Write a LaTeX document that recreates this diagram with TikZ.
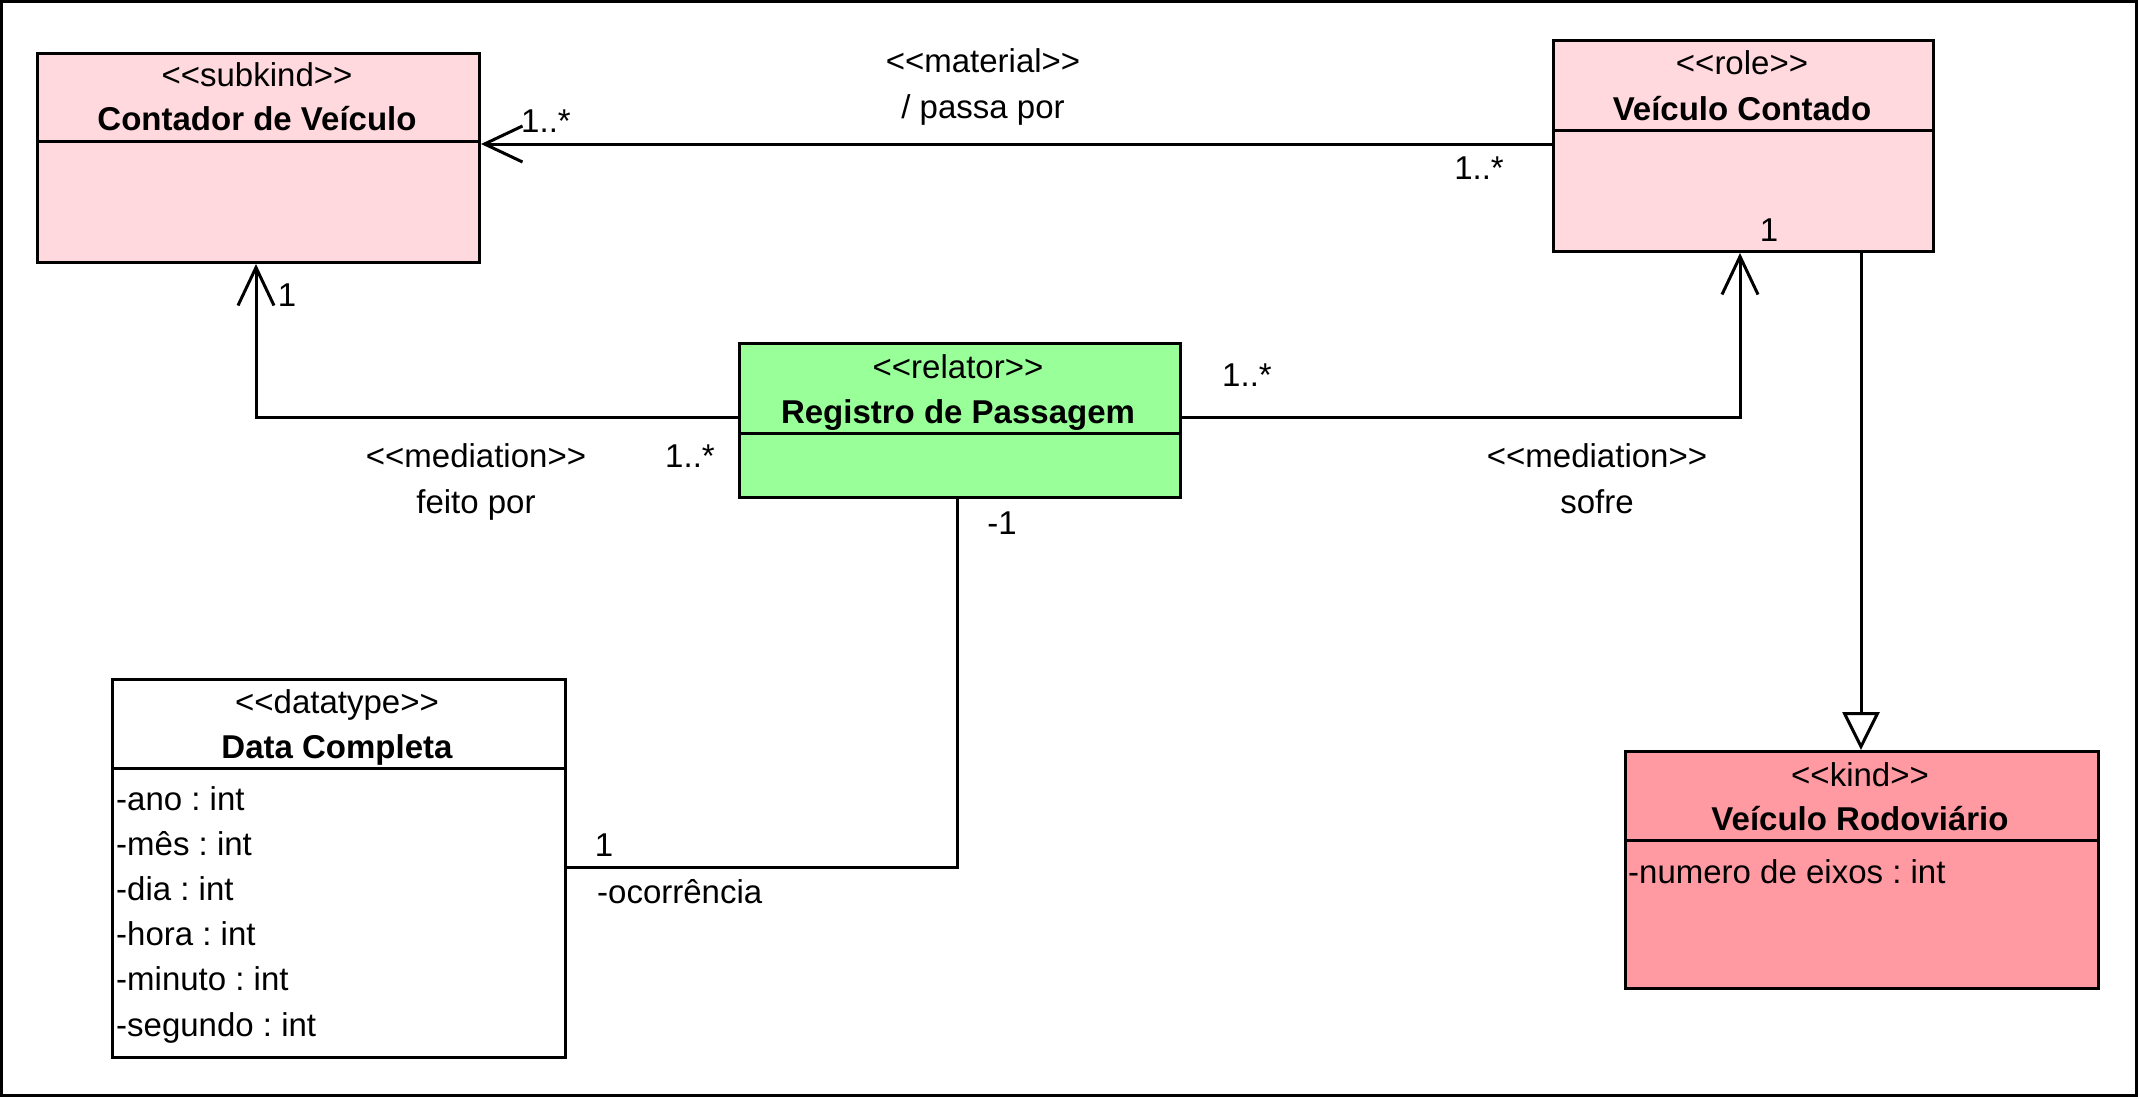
\documentclass[tikz,border=0pt]{standalone}
\usepackage{fontspec}
\setmainfont{Liberation Sans}
\usetikzlibrary{arrows.meta}
\definecolor{pinkA}{HTML}{FFD9DD}
\definecolor{pinkB}{HTML}{FF99A2}
\definecolor{greenA}{HTML}{99FF99}
\newcommand{\stl}{<\kern0pt<}
\newcommand{\stg}{>\kern0pt>}
\frenchspacing
\begin{document}
\begin{tikzpicture}[x=1pt,y=-1pt,
  font=\fontsize{33}{39}\selectfont,
  classbox/.style={draw=black, line width=3pt, anchor=north west, inner sep=0pt},
  divline/.style={draw=black, line width=3pt},
  assoc/.style={draw=black, line width=3pt},
  openarrow/.style={-{Straight Barb[length=38pt,width=36pt,line width=3pt]}},
  genarrow/.style={-{Triangle[length=38pt,width=37pt,fill=white,line width=3pt]}},
  lbl/.style={inner sep=0pt, text height=23pt, text depth=0pt},
  nm/.style={lbl, font=\fontsize{33}{39}\selectfont\bfseries}]
\useasboundingbox (0,0) rectangle (2139,1098);
\draw[line width=3pt] (1.5,1.5) rectangle (2136.5,1095.5);

% classes
\node[classbox, fill=pinkA, minimum width=442pt, minimum height=209pt] (cont) at (36,52) {};
\draw[divline] (cont.west |- 0,141) -- (cont.east |- 0,141);
\node[lbl] (contS) at (257,75) {\stl subkind\stg};
\node[nm] (contN) at (257,119) {Contador de Veículo};

\node[classbox, fill=pinkA, minimum width=380pt, minimum height=211pt] (vc) at (1552,39) {};
\draw[divline] (vc.west |- 0,130) -- (vc.east |- 0,130);
\node[lbl] (vcS) at (1742,63) {\stl role\stg};
\node[nm] (vcN) at (1742,109) {Veículo Contado};

\node[classbox, fill=greenA, minimum width=441pt, minimum height=154pt] (reg) at (738,342) {};
\draw[divline] (reg.west |- 0,433) -- (reg.east |- 0,433);
\node[lbl] (regS) at (958,367) {\stl relator\stg};
\node[nm] (regN) at (958,412) {Registro de Passagem};

\node[classbox, fill=white, minimum width=453pt, minimum height=378pt] (dc) at (111,678) {};
\draw[divline] (dc.west |- 0,768) -- (dc.east |- 0,768);
\node[lbl] (dcS) at (337,702) {\stl datatype\stg};
\node[nm] (dcN) at (337,747) {Data Completa};
\node[lbl, anchor=west] (dc1) at (116,799) {-ano : int};
\node[lbl, anchor=west] (dc2) at (116,844) {-mês : int};
\node[lbl, anchor=west] (dc3) at (116,889) {-dia : int};
\node[lbl, anchor=west] (dc4) at (116,934) {-hora : int};
\node[lbl, anchor=west] (dc5) at (116,979) {-minuto : int};
\node[lbl, anchor=west] (dc6) at (116,1025) {-segundo : int};

\node[classbox, fill=pinkB, minimum width=473pt, minimum height=237pt] (vr) at (1624,750) {};
\draw[divline] (vr.west |- 0,840) -- (vr.east |- 0,840);
\node[lbl] (vrS) at (1860,775) {\stl kind\stg};
\node[nm] (vrN) at (1860,819) {Veículo Rodoviário};
\node[lbl, anchor=west] (vr1) at (1628,872) {-numero de eixos : int};

% material association
\draw[assoc, openarrow] (vc.west |- 0,144) -- (cont.east |- 0,144);
\node[lbl] (matS) at (983,61) {\stl material\stg};
\node[lbl] (matN) at (983,107) {/ passa por};
\node[lbl] (matM1) at (546,121) {1..*};
\node[lbl] (matM2) at (1479,168) {1..*};

% mediation feito por
\draw[assoc, openarrow] (reg.west |- 0,417) -| (cont.south -| 256,0);
\node[lbl] (fpS) at (476,456) {\stl mediation\stg};
\node[lbl] (fpN) at (476,502) {feito por};
\node[lbl] (fpM1) at (287,295) {1};
\node[lbl] (fpM2) at (690,456) {1..*};

% mediation sofre
\draw[assoc, openarrow] (reg.east |- 0,417) -| (vc.south -| 1740,0);
\node[lbl] (soS) at (1597,456) {\stl mediation\stg};
\node[lbl] (soN) at (1597,502) {sofre};
\node[lbl] (soM1) at (1247,375) {1..*};
\node[lbl] (soM2) at (1769,230) {1};

% ocorrencia
\draw[assoc] (reg.south -| 957,0) |- (dc.east |- 0,867);
\node[lbl] (ocM1) at (1002,523) {-1};
\node[lbl] (ocM2) at (604,845) {1};
\node[lbl, anchor=west] (ocN) at (597,892) {-ocorrência};

% generalization
\draw[assoc, genarrow] (vc.south -| 1861,0) -- (vr.north -| 1861,0);
\end{tikzpicture}
\end{document}
